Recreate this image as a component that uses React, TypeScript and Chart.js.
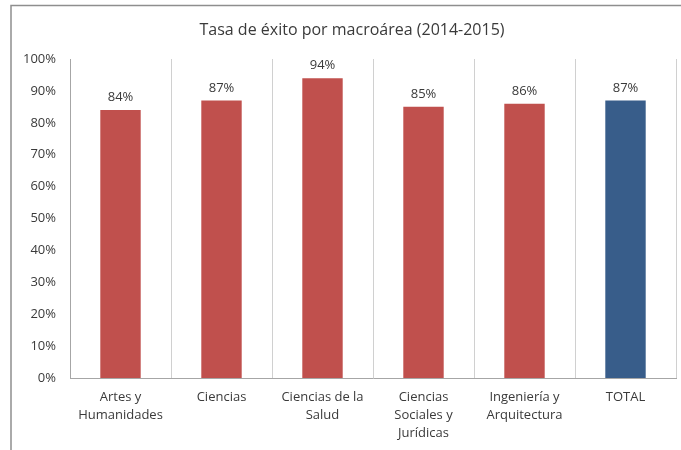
import React, { useEffect, useRef } from "react";
import { Chart, registerables } from "chart.js";

Chart.register(...registerables);

const categories: (string | string[])[] = [
  ["Artes y", "Humanidades"],
  "Ciencias",
  ["Ciencias de la", "Salud"],
  ["Ciencias", "Sociales y", "Jurídicas"],
  ["Ingeniería y", "Arquitectura"],
  "TOTAL",
];
const successRate = [84, 87, 94, 85, 86, 87];
const barColors = ["#C0504D", "#C0504D", "#C0504D", "#C0504D", "#C0504D", "#385D8A"];
const yTicks = [0, 10, 20, 30, 40, 50, 60, 70, 80, 90, 100];
const titleText = "Tasa de éxito por macroárea (2014-2015)";

const FONT = "'Open Sans', sans-serif";
const TEXT = "#3a3a3a";

export default function App() {
  const ref = useRef<HTMLCanvasElement | null>(null);

  useEffect(() => {
    if (!ref.current) return;
    const framePlugin = {
      id: "frame",
      beforeDraw(chart: any) {
        const ctx = chart.ctx;
        ctx.save();
        ctx.fillStyle = "#ffffff";
        ctx.fillRect(0, 0, chart.width, chart.height);
        ctx.strokeStyle = "#8e8e8e";
        ctx.lineWidth = 1.5;
        ctx.beginPath();
        ctx.moveTo(11, chart.height);
        ctx.lineTo(11, 5.5);
        ctx.lineTo(chart.width, 5.5);
        ctx.stroke();
        ctx.restore();
      },
      afterDraw(chart: any) {
        const ctx = chart.ctx;
        ctx.save();
        ctx.fillStyle = TEXT;
        ctx.font = `16px ${FONT}`;
        ctx.textAlign = "center";
        ctx.textBaseline = "middle";
        ctx.fillText(titleText, 352, 30);
        ctx.font = `13px ${FONT}`;
        ctx.textBaseline = "bottom";
        const meta = chart.getDatasetMeta(0);
        meta.data.forEach((bar: any, i: number) => {
          ctx.fillText(`${successRate[i]}%`, bar.x, bar.y - 6);
        });
        ctx.restore();
      },
    };

    const chart = new Chart(ref.current, {
      type: "bar",
      data: {
        labels: categories,
        datasets: [
          {
            data: successRate,
            backgroundColor: barColors,
            borderWidth: 0,
            barPercentage: 0.4,
            categoryPercentage: 1,
          },
        ],
      },
      options: {
        responsive: false,
        animation: false,
        devicePixelRatio: 1,
        layout: { padding: { left: 0, right: 5, top: 59, bottom: 0 } },
        plugins: {
          legend: { display: false },
          title: { display: false },
          tooltip: { enabled: false },
        },
        scales: {
          x: {
            offset: true,
            grid: {
              display: true,
              offset: true,
              color: "#d0d0d0",
              drawTicks: false,
            },
            border: { display: true, color: "#a6a6a6" },
            ticks: {
              color: TEXT,
              font: { family: FONT, size: 13, lineHeight: 1.4 },
              padding: 10,
              maxRotation: 0,
              autoSkip: false,
            },
            afterFit(scale: any) {
              scale.height = 72;
            },
          },
          y: {
            min: 0,
            max: 100,
            afterBuildTicks(scale: any) {
              scale.ticks = yTicks.map((v) => ({ value: v }));
            },
            grid: { display: false, drawTicks: false },
            border: { display: true, color: "#a6a6a6" },
            ticks: {
              color: TEXT,
              font: { family: FONT, size: 13 },
              padding: 14,
              callback: (v: any) => `${v}%`,
            },
            afterFit(scale: any) {
              scale.width = 70;
            },
          },
        },
      },
      plugins: [framePlugin],
    });
    return () => chart.destroy();
  }, []);

  return (
    <div style={{ position: "absolute", left: 0, top: 0, width: 681, height: 450 }}>
      <canvas ref={ref} width={681} height={450} style={{ width: 681, height: 450 }} />
    </div>
  );
}
